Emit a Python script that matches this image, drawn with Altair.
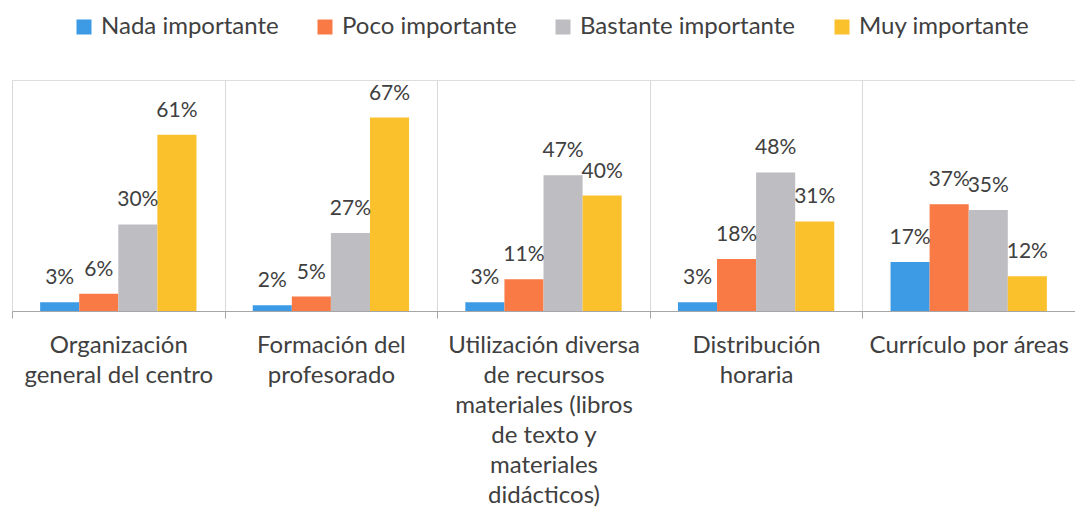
import altair as alt
import pandas as pd

categories = [
    "Organización\ngeneral del centro",
    "Formación del\nprofesorado",
    "Utilización diversa\nde recursos\nmateriales (libros\nde texto y\nmateriales\ndidácticos)",
    "Distribución\nhoraria",
    "Currículo por áreas",
]
series = ["Nada importante", "Poco importante", "Bastante importante", "Muy importante"]
nada = [3, 2, 3, 3, 17]
poco = [6, 5, 11, 18, 37]
bastante = [30, 27, 47, 48, 35]
muy = [61, 67, 40, 31, 12]
colors = ["#3D9BE6", "#FA7A45", "#BDBDC2", "#FBC12D"]

rows = []
for s, vals in zip(series, [nada, poco, bastante, muy]):
    for c, v in zip(categories, vals):
        rows.append({"category": c, "series": s, "value": v, "label": f"{v}%"})
df = pd.DataFrame(rows)

FONT = "Lato"
TXT = "#404040"

base = alt.Chart(df).encode(
    x=alt.X(
        "category:N",
        sort=categories,
        scale=alt.Scale(paddingInner=0, paddingOuter=0),
        axis=alt.Axis(
            title=None,
            labelAngle=0,
            labelExpr="split(datum.label, '\\n')",
            grid=True,
            gridColor="#D9D9D9",
            tickBand="extent",
            domainColor="#A6A6A6",
            tickColor="#A6A6A6",
            tickSize=7,
            labelFont=FONT,
            labelFontSize=24,
            labelColor=TXT,
            labelLineHeight=30,
            labelPadding=15,
            labelLimit=400,
        ),
    ),
    xOffset=alt.XOffset("series:N", sort=series, scale=alt.Scale(paddingInner=0, paddingOuter=0.72)),
    y=alt.Y("value:Q", scale=alt.Scale(domain=[0, 80]), axis=None),
)

bars = base.mark_bar().encode(
    color=alt.Color(
        "series:N",
        sort=series,
        scale=alt.Scale(domain=series, range=colors),
        legend=alt.Legend(
            title=None,
            orient="none",
            legendX=60,
            legendY=-65,
            direction="horizontal",
            symbolType="square",
            symbolSize=225,
            symbolStrokeWidth=0,
            labelFont=FONT,
            labelFontSize=24,
            labelColor=TXT,
            labelLimit=400,
            columnPadding=34,
            labelOffset=5,
        ),
    )
)

text = base.mark_text(dy=-24, fontSize=21, font=FONT, color=TXT, baseline="middle").encode(
    text="label:N"
)

chart = (
    alt.layer(bars, text)
    .properties(
        width=1063,
        height=231,
        autosize=alt.AutoSizeParams(type="none"),
        padding={"left": 4, "top": 72, "right": 0, "bottom": 198},
    )
    .configure_view(stroke=None)
    .configure(background="white")
)

chart.save("out.html", embed_options={"renderer": "svg", "actions": False})
